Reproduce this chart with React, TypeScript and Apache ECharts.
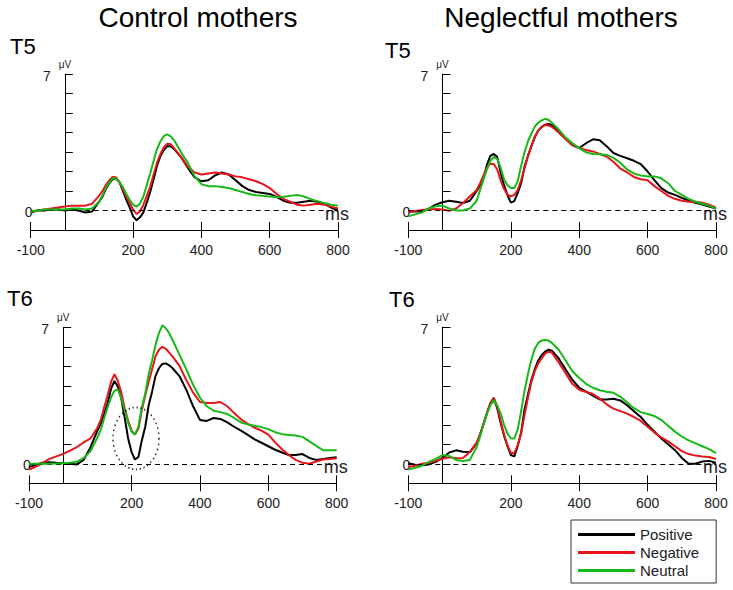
import { useEffect, useRef } from 'react';
import * as echarts from 'echarts';

// ---- data ----
const times = [
  -100, -80, -60, -40, -20, 0, 20, 40, 60, 80, 100,
  110, 120, 130, 140, 150, 160, 170, 180, 190, 200, 210, 220, 230, 240, 250, 260, 270, 280, 290, 300, 310, 320,
  340, 360, 380, 400, 420, 440, 460, 480, 500, 520, 540, 560, 580, 600, 620, 640, 660, 680, 700, 720, 740, 760, 780, 800,
];

const conditions = ['Positive', 'Negative', 'Neutral'];
const columnTitles = ['Control mothers', 'Neglectful mothers'];
const rowLabels = ['T5', 'T6'];
const xTickValues = [-100, 200, 400, 600, 800];
const xMin = -100;
const xMax = 800;
const yTopLabel = 7;
const xUnit = 'ms';
const yUnit = 'μV';
const circleMark = [[213, 1.3]];

const t5ControlPositive = [
  -0.1, 0, 0, 0.05, 0.05, 0, 0.05, 0, -0.1, -0.05, 0.45,
  0.7, 1.1, 1.4, 1.6, 1.65, 1.45, 1.0, 0.55, 0.15, -0.3, -0.5, -0.35, -0.1, 0.4, 0.95, 1.6, 2.3, 2.8, 3.1, 3.3, 3.3, 3.15,
  2.75, 2.2, 1.7, 1.5, 1.55, 1.8, 1.95, 1.85, 1.55, 1.25, 1.05, 0.95, 0.9, 0.85, 0.7, 0.5, 0.4, 0.4, 0.45, 0.5, 0.45, 0.35, 0.15, 0,
];
const t5ControlNegative = [
  -0.05, 0, 0.05, 0.1, 0.15, 0.2, 0.25, 0.25, 0.25, 0.35, 0.75,
  1.0, 1.3, 1.55, 1.72, 1.7, 1.45, 1.1, 0.7, 0.38, 0.05, -0.18, -0.05, 0.29, 0.75, 1.23, 1.85, 2.45, 2.9, 3.25, 3.42, 3.4, 3.2,
  2.75, 2.25, 1.95, 1.85, 1.9, 1.95, 1.9, 1.85, 1.75, 1.7, 1.6, 1.5, 1.35, 1.15, 0.85, 0.6, 0.45, 0.3, 0.25, 0.3, 0.35, 0.3, 0.2, 0.1,
];
const t5ControlNeutral = [
  -0.05, 0, 0.05, 0.05, 0.05, 0.05, 0.1, 0.1, 0.05, 0.1, 0.45,
  0.75, 1.15, 1.45, 1.65, 1.65, 1.45, 1.2, 0.85, 0.55, 0.3, 0.2, 0.35, 0.72, 1.3, 1.9, 2.55, 3.15, 3.55, 3.82, 3.9, 3.8, 3.6,
  3.0, 2.45, 1.75, 1.35, 1.25, 1.25, 1.2, 1.15, 1.05, 0.95, 0.85, 0.78, 0.75, 0.72, 0.68, 0.7, 0.75, 0.8, 0.72, 0.58, 0.48, 0.38, 0.3, 0.25,
];

const t5NeglectPositive = [
  -0.05, -0.05, -0.05, 0.1, 0.3, 0.42, 0.5, 0.45, 0.38, 0.5, 1.0,
  1.3, 1.65, 2.35, 2.8, 2.9, 2.75, 1.95, 1.3, 0.8, 0.4, 0.48, 0.9, 1.4, 2.25, 2.8, 3.3, 3.75, 4.1, 4.28, 4.4, 4.44, 4.38,
  4.05, 3.7, 3.35, 3.2, 3.45, 3.65, 3.6, 3.3, 2.95, 2.8, 2.68, 2.55, 2.38, 2.0, 1.55, 1.15, 0.92, 0.8, 0.65, 0.5, 0.4, 0.3, 0.2, 0.1,
];
const t5NeglectNegative = [
  -0.05, -0.02, 0.02, 0.05, 0.08, 0.05, -0.02, 0.1, 0.38, 0.72, 1.05,
  1.4, 1.8, 2.2, 2.4, 2.38, 2.1, 1.55, 1.1, 0.82, 0.72, 0.8, 1.05, 1.55, 2.15, 2.8, 3.3, 3.8, 4.1, 4.3, 4.38, 4.36, 4.3,
  4.0, 3.65, 3.35, 3.2, 3.1, 3.03, 2.9, 2.77, 2.5, 2.15, 1.95, 1.72, 1.6, 1.55, 1.25, 1.0, 0.75, 0.6, 0.5, 0.45, 0.45, 0.4, 0.3, 0.15,
];
const t5NeglectNeutral = [
  -0.3, -0.2, -0.1, 0.1, 0.22, 0.25, 0.1, 0.0, 0.0, 0.1, 0.5,
  1.05, 1.6, 2.1, 2.55, 2.75, 2.65, 2.2, 1.6, 1.3, 1.15, 1.15, 1.5, 2.3, 3.0, 3.55, 3.95, 4.3, 4.5, 4.62, 4.7, 4.65, 4.5,
  4.15, 3.75, 3.45, 3.2, 2.98, 2.9, 2.88, 2.85, 2.7, 2.45, 2.1, 1.9, 1.8, 1.75, 1.75, 1.65, 1.4, 1.0, 0.8, 0.6, 0.45, 0.35, 0.25, 0.1,
];

const t6ControlPositive = [
  -0.17, -0.05, 0.05, 0.08, 0.05, 0.03, 0.0, -0.03, 0.2, 0.85, 1.7,
  2.05, 2.55, 3.1, 3.85, 4.25, 3.95, 3.35, 2.35, 1.3, 0.6, 0.22, 0.35, 1.2, 1.9, 3.0, 3.7, 4.5, 4.9, 5.12, 5.15, 5.05, 4.9,
  4.5, 3.8, 2.95, 2.25, 2.2, 2.35, 2.3, 2.12, 1.9, 1.7, 1.48, 1.25, 1.08, 0.9, 0.72, 0.58, 0.45, 0.45, 0.5, 0.3, 0.2, 0.25, 0.3, 0.34,
];
const t6ControlNegative = [
  -0.3, -0.15, 0.05, 0.25, 0.38, 0.51, 0.68, 0.86, 1.1, 1.3, 1.85,
  2.25, 2.9, 3.5, 4.2, 4.6, 4.25, 3.65, 2.85, 2.2, 1.7, 1.5, 1.8, 2.75, 3.5, 4.2, 4.85, 5.5, 5.85, 6.0, 5.9, 5.7, 5.5,
  5.02, 4.3, 3.65, 3.17, 3.12, 3.12, 3.17, 2.95, 2.6, 2.28, 2.05, 1.85, 1.7, 1.5, 1.1, 0.75, 0.45, 0.2, 0.05, 0.0, 0.12, 0.22, 0.25, 0.28,
];
const t6ControlNeutral = [
  0, 0, 0, 0, 0.02, 0.03, 0.05, 0.1, 0.3, 0.65, 1.35,
  1.75, 2.35, 2.9, 3.4, 3.75, 3.82, 3.35, 2.75, 2.1, 1.65, 1.5, 1.9, 2.9, 3.6, 4.6, 5.3, 6.1, 6.7, 7.1, 6.95, 6.7, 6.35,
  5.6, 4.85, 4.05, 3.4, 2.95, 2.72, 2.65, 2.55, 2.35, 2.12, 2.02, 1.95, 1.88, 1.78, 1.62, 1.52, 1.48, 1.45, 1.38, 1.15, 0.92, 0.7, 0.7, 0.7,
];

const t6NeglectPositive = [
  0.03, -0.05, -0.08, -0.03, 0.1, 0.3, 0.58, 0.69, 0.62, 0.6, 1.05,
  1.5, 2.05, 2.6, 3.1, 3.38, 2.85, 2.1, 1.45, 0.9, 0.45, 0.38, 0.9, 1.6, 2.8, 3.55, 4.3, 4.85, 5.3, 5.57, 5.75, 5.85, 5.8,
  5.4, 4.85, 4.3, 3.9, 3.7, 3.5, 3.3, 3.3, 3.34, 3.25, 3.0, 2.7, 2.4, 2.0, 1.65, 1.3, 1.0, 0.7, 0.3, 0.0, 0.0, 0.12, 0.15, 0.05,
];
const t6NeglectNegative = [
  -0.17, -0.1, 0.0, 0.05, 0.15, 0.26, 0.34, 0.28, 0.3, 0.6, 1.1,
  1.5, 2.05, 2.6, 3.1, 3.35, 2.95, 2.2, 1.5, 0.95, 0.55, 0.55, 0.95, 1.55, 2.5, 3.4, 4.2, 4.75, 5.15, 5.4, 5.65, 5.75, 5.7,
  5.2, 4.65, 4.1, 3.8, 3.68, 3.58, 3.34, 3.05, 2.83, 2.7, 2.57, 2.4, 2.2, 1.9, 1.6, 1.35, 1.15, 0.9, 0.65, 0.5, 0.42, 0.38, 0.35, 0.25,
];
const t6NeglectNeutral = [
  -0.3, -0.2, -0.1, 0.1, 0.25, 0.45, 0.4, 0.2, 0.14, 0.2, 0.86,
  1.4, 2.0, 2.55, 3.0, 3.25, 3.0, 2.6, 2.0, 1.55, 1.3, 1.3, 1.75, 2.7, 3.75, 4.6, 5.35, 5.9, 6.2, 6.32, 6.35, 6.32, 6.2,
  5.85, 5.3, 4.75, 4.4, 4.1, 3.9, 3.77, 3.7, 3.64, 3.45, 3.15, 2.85, 2.65, 2.55, 2.45, 2.25, 1.95, 1.65, 1.4, 1.2, 1.05, 0.9, 0.75, 0.55,
];

const panelData = [
  [t5ControlPositive, t5ControlNegative, t5ControlNeutral],
  [t5NeglectPositive, t5NeglectNegative, t5NeglectNeutral],
  [t6ControlPositive, t6ControlNegative, t6ControlNeutral],
  [t6NeglectPositive, t6NeglectNegative, t6NeglectNeutral],
];

// ---- layout / style ----
const FONT = '"Liberation Sans", Arial, Helvetica, sans-serif';
const COLORS = ['#000000', '#e8141a', '#16b916'];
const TEXT = '#222';
const GRIDS = [
  { left: 30.7, top: 74, width: 307.3, height: 156 },
  { left: 408.3, top: 74, width: 307.7, height: 156 },
  { left: 29, top: 327.3, width: 307.7, height: 156 },
  { left: 408.3, top: 327.3, width: 307.7, height: 156 },
];

export default function App() {
  const ref = useRef<HTMLDivElement>(null);

  useEffect(() => {
    if (!ref.current) return;
    const chart = echarts.init(ref.current, undefined, { renderer: 'svg' });

    const xAxis: any[] = [];
    const yAxis: any[] = [];
    const series: any[] = [];

    GRIDS.forEach((_, i) => {
      xAxis.push({
        type: 'value', gridIndex: i, min: xMin, max: xMax, position: 'bottom',
        axisLine: { onZero: false, lineStyle: { color: '#000', width: 1 } },
        axisTick: { customValues: xTickValues, length: 8, lineStyle: { color: '#000' } },
        axisLabel: { customValues: xTickValues, margin: 13, fontSize: 14, color: TEXT, fontFamily: FONT },
        splitLine: { show: false },
      });
      xAxis.push({
        type: 'value', gridIndex: i, min: xMin, max: xMax, position: 'bottom',
        axisLine: { show: false, onZero: false },
        axisTick: { customValues: xTickValues, inside: true, length: 8, lineStyle: { color: '#000' } },
        axisLabel: { show: false },
        splitLine: { show: false },
      });
      yAxis.push({
        type: 'value', gridIndex: i, min: -1, max: 7, interval: 1,
        name: yUnit, nameLocation: 'end', nameGap: 5,
        nameTextStyle: { fontSize: 10, color: TEXT, fontFamily: FONT },
        axisLine: { onZero: true, lineStyle: { color: '#000', width: 1 } },
        axisTick: { inside: true, length: 8, lineStyle: { color: '#000' } },
        axisLabel: { show: false },
        splitLine: { show: false },
      });

      panelData[i].forEach((vals, j) => {
        const s: any = {
          type: 'line', name: conditions[j], xAxisIndex: 2 * i, yAxisIndex: i,
          data: times.map((t, k) => [t, vals[k]]),
          symbol: 'none', showSymbol: false, clip: false,
          color: COLORS[j],
          lineStyle: { width: 2, color: COLORS[j] },
          z: 3 + j,
        };
        if (j === 0) {
          s.markLine = {
            silent: true, symbol: 'none', animation: false,
            label: { show: false },
            data: [{ yAxis: 0, lineStyle: { type: [5, 4], color: '#000', width: 1 } }],
          };
        }
        series.push(s);
      });
    });

    series.push({
      type: 'scatter', name: 'highlight', xAxisIndex: 4, yAxisIndex: 2,
      data: circleMark, symbol: 'circle', symbolSize: [46, 62], silent: true, z: 10,
      itemStyle: { color: 'rgba(0,0,0,0)', borderColor: '#000', borderWidth: 1.6, borderType: [1.5, 3] },
    });

    const txt = (x: number, y: number, text: string, fontSize: number, align: string, fill = '#000') => ({
      type: 'text', x, y, silent: true,
      style: { text, fontSize, fontFamily: FONT, fill, align, verticalAlign: 'middle' },
    });

    const graphic: any[] = [
      txt(198, 17, columnTitles[0], 28, 'center'),
      txt(561, 17, columnTitles[1], 28, 'center'),
      txt(10, 46, rowLabels[0], 22, 'left'),
      txt(385, 50, rowLabels[0], 22, 'left'),
      txt(7, 298, rowLabels[1], 22, 'left'),
      txt(389, 299, rowLabels[1], 22, 'left'),
    ];

    chart.setOption({
      animation: false,
      backgroundColor: '#fff',
      grid: GRIDS.map((g) => ({ ...g, containLabel: false })),
      xAxis,
      yAxis,
      series,
      legend: {
        data: conditions,
        orient: 'vertical',
        left: 571, top: 520,
        icon: 'rect', itemWidth: 57, itemHeight: 3, itemGap: 3,
        padding: [7, 17, 5, 7],
        borderColor: '#333', borderWidth: 1,
        selectedMode: false,
        textStyle: { fontSize: 15, lineHeight: 15, color: TEXT, fontFamily: FONT },
      },
    });

    // axis annotations placed through the chart's own scales
    GRIDS.forEach((_, i) => {
      const xStart = chart.convertToPixel({ xAxisIndex: 2 * i } as any, xMin) as unknown as number;
      const xEnd = chart.convertToPixel({ xAxisIndex: 2 * i } as any, xMax) as unknown as number;
      const xZero = xStart + ((0 - xMin) / (xMax - xMin)) * (xEnd - xStart);
      const yTop = chart.convertToPixel({ yAxisIndex: i } as any, yTopLabel) as unknown as number;
      const yZero = chart.convertToPixel({ yAxisIndex: i } as any, 0) as unknown as number;
      graphic.push(txt(xZero - 18, yTop + 2, String(yTopLabel), 14, 'center', TEXT));
      graphic.push(txt(xStart - 2, yZero + 1, '0', 14, 'center', TEXT));
      graphic.push(txt(xEnd - 13, yZero + 3, xUnit, 18, 'left', TEXT));
    });

    chart.setOption({ graphic });

    return () => chart.dispose();
  }, []);

  return <div ref={ref} style={{ position: 'absolute', left: 0, top: 0, width: 733, height: 590, background: '#fff' }} />;
}
